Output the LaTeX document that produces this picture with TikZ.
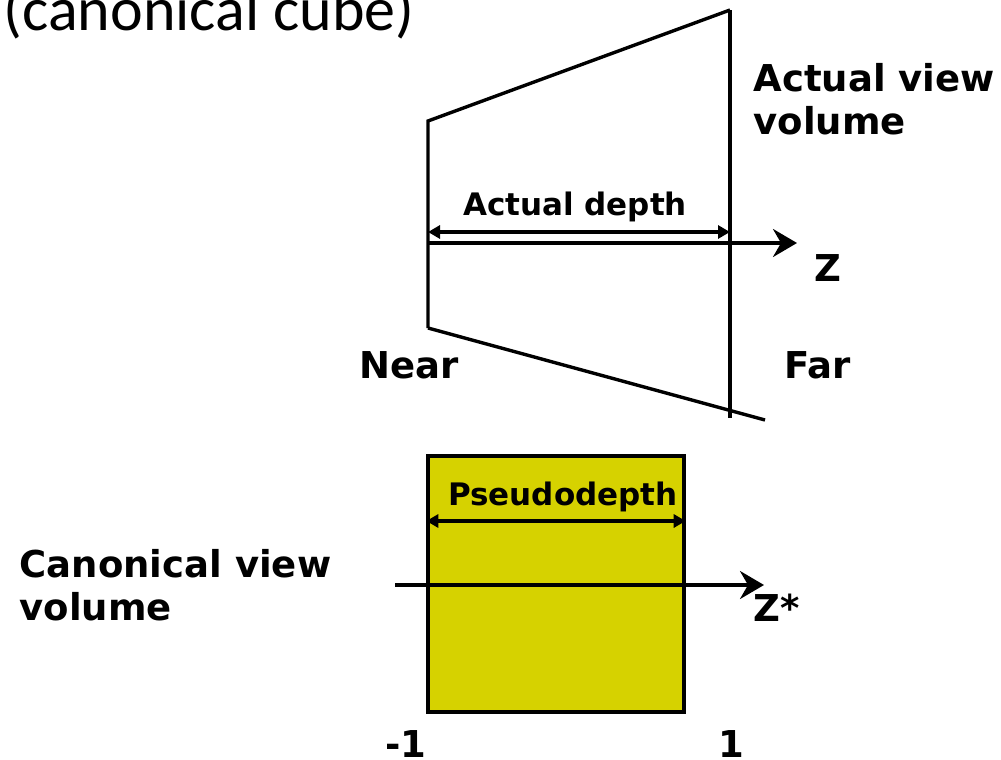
\documentclass[tikz,border=0pt]{standalone}
\usepackage{fontspec}
\setmainfont{DejaVu Sans}
\newfontfamily\calibfont{Carlito}
\usetikzlibrary{arrows.meta, positioning}
\definecolor{cubeyellow}{RGB}{214,210,0}

\begin{document}
\begin{tikzpicture}[x=0.5pt, y=-0.5pt, line width=1.7pt,
          lbl/.style={font=\fontsize{18.5}{21.5}\selectfont\bfseries, inner sep=0pt, align=left},
          dimlbl/.style={font=\fontsize{15.5}{18}\selectfont\bfseries, inner sep=0pt},
          axis/.style={-{Stealth[length=12pt, width=14pt, inset=4pt]}},
          dim/.style={{Triangle[length=6pt, width=6.5pt]}-{Triangle[length=6pt, width=6.5pt]}},
          cube/.style={rectangle, draw=black, fill=cubeyellow, minimum width=128pt, minimum height=128pt, inner sep=0pt}]
        \useasboundingbox (0,0) rectangle (1001,760);

        \node [anchor=base west, inner sep=0pt, font=\fontsize{31}{36}\selectfont\calibfont] (title) at (2,31) {(canonical cube)};

        % actual view volume
        \coordinate (nt) at (428,121);
        \coordinate (nb) at (428,328);
        \coordinate (ft) at (730,10);
        \coordinate (fb) at (730,418);
        \coordinate (be) at (765,420);
        \draw (nb) -- (nt) -- (ft);
        \draw (nb) -- (be);
        \draw (ft) -- (fb);

        \coordinate (z0) at (428,243);
        \coordinate (z1) at (797,243);
        \draw [axis] (z0) -- (z1);
        \draw [dim] (428,232) coordinate (d0) -- (730,232) coordinate (d1);
        \node [dimlbl, anchor=base] (adepth) at (575,215) {Actual depth};

        \node [lbl, anchor=base west] (zlbl) at (813,281) {Z};
        \node [lbl, anchor=base west] (near) at (358,378) {Near};
        \node [lbl, anchor=base west] (far) at (783,378) {Far};
        \node [lbl, anchor=north west] (actual) at (752,62) {Actual view\\volume};

        % canonical view volume
        \node [cube] (cv) at (556,584) {};
        \draw [dim] (cv.west |- 0,521) -- (cv.east |- 0,521);
        \node [dimlbl, anchor=base] (pdepth) at (563,505) {Pseudodepth};

        \coordinate (w0) at (395,585);
        \coordinate (w1) at (764,585);
        \draw [axis] (w0) -- (w1);
        \node [lbl, anchor=base west] (zslbl) at (752,621) {Z*};
        \node [lbl, anchor=north west] (canon) at (18,548) {Canonical view\\volume};

        \node [lbl, anchor=base] (m1) at (406,757) {-1};
        \node [lbl, anchor=base] (p1) at (731,757) {1};
      \end{tikzpicture}
\end{document}
